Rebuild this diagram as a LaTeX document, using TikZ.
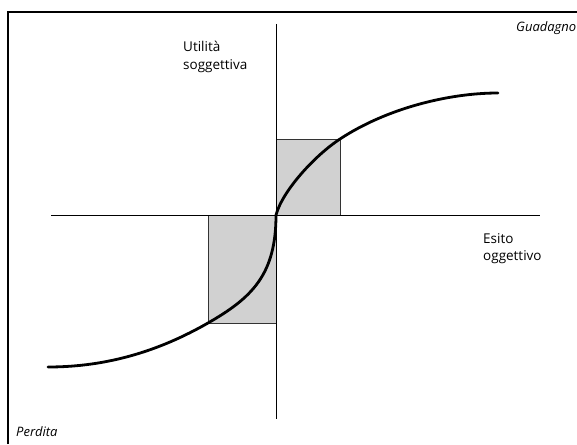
\documentclass[tikz,border=0pt]{standalone}
\usepackage{fontspec}
\setmainfont{Open Sans}
\usetikzlibrary{positioning,calc}

\begin{document}
\begin{tikzpicture}[
    x=1pt, y=-1pt,
    frameline/.style={line width=1.3pt},
    axisline/.style={line width=1pt},
    valbox/.style={draw=black!80, fill=black!18, line width=1pt},
    utilcurve/.style={line width=2.8pt, line cap=round},
    axislbl/.style={font=\fontsize{13.5}{17.5}\selectfont, align=left,
                    inner sep=0pt, anchor=north west},
    cornerlbl/.style={font=\itshape\fontsize{13}{15}\selectfont,
                      inner sep=0pt, anchor=base west},
  ]
    \useasboundingbox (0,0) rectangle (577,444);

    % ---- Frame (open on the right and bottom) ----
    \coordinate (FL) at (8,444);
    \coordinate (TL) at (8,12);
    \coordinate (TR) at (577,12);
    \draw[frameline] (FL) -- (TL) -- (TR);

    % ---- Key points ----
    \coordinate (O)  at (276,215);
    \coordinate (G1) at (340,139);
    \coordinate (G2) at (498,93);
    \coordinate (L1) at (208,323);
    \coordinate (L2) at (48,367);

    % ---- Shaded boxes ----
    \draw[valbox] (O) rectangle (G1);
    \draw[valbox] (L1) rectangle (O);

    % ---- Axes ----
    \coordinate (XA) at (51,215);
    \coordinate (XB) at (540,215);
    \coordinate (YA) at (276,24);
    \coordinate (YB) at (276,419);
    \draw[axisline] (XA) -- (XB);
    \draw[axisline] (YA) -- (YB);

    % ---- Value curve ----
    \draw[utilcurve]
      (L2) .. controls (108,367) and (160,350.5) .. (L1)
           .. controls (251.5,298) and (276,275) .. (O)
           .. controls (282.5,190.7) and (314.8,155.5) .. (G1)
           .. controls (386,108.7) and (448,93) .. (G2);

    % ---- Labels ----
    \node[axislbl]   (ylbl) at (183,41) {Utilità\\soggettiva};
    \node[axislbl]   (xlbl) at (483,233) {Esito\\oggettivo};
    \node[cornerlbl] (gain) at (516,32) {Guadagno};
    \node[cornerlbl] (loss) at (16,436) {Perdita};
  \end{tikzpicture}
\end{document}
